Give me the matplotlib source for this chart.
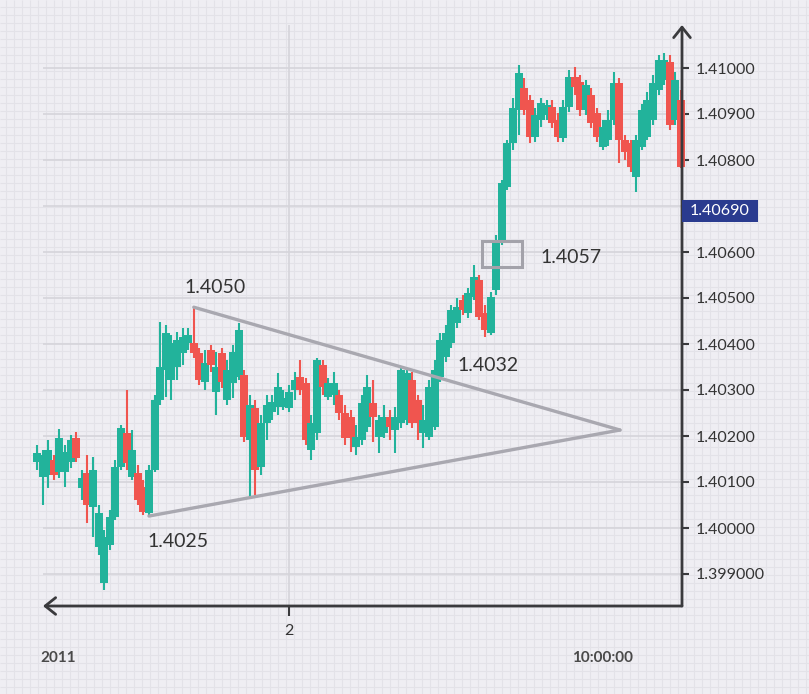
import matplotlib
matplotlib.use("Agg")
import matplotlib.pyplot as plt
import matplotlib.transforms as mtransforms
from matplotlib.patches import Rectangle
import numpy as np

# ---- OHLC series (one candle per bar index) ----
opens = [1.40143, 1.40111, 1.40115, 1.40148, 1.40122, 1.40122, 1.40143, 1.40196, 1.40087, 1.40120,
         1.40046, 1.39959, 1.39880, 1.39963, 1.40024, 1.40133, 1.40206, 1.40111, 1.40120, 1.40089,
         1.40033, 1.40126, 1.40278, 1.40343, 1.40322, 1.40350, 1.40380, 1.40402, 1.40402, 1.40380,
         1.40317, 1.40387, 1.40296, 1.40380, 1.40278, 1.40315, 1.40328, 1.40333, 1.40191, 1.40261,
         1.40133, 1.40228, 1.40252, 1.40263, 1.40263, 1.40261, 1.40300, 1.40328, 1.40315, 1.40170,
         1.40206, 1.40354, 1.40285, 1.40289, 1.40289, 1.40250, 1.40241, 1.40176, 1.40191, 1.40220,
         1.40272, 1.40198, 1.40206, 1.40241, 1.40213, 1.40228, 1.40235, 1.40322, 1.40278, 1.40206,
         1.40198, 1.40220, 1.40328, 1.40372, 1.40402, 1.40446, 1.40496, 1.40467, 1.40502, 1.40539,
         1.40467, 1.40424, 1.40517, 1.40626, 1.40741, 1.40837, 1.40909, 1.40957, 1.40930, 1.40850,
         1.40887, 1.40898, 1.40915, 1.40887, 1.40848, 1.40915, 1.40980, 1.40970, 1.40909, 1.40941,
         1.40902, 1.40828, 1.40843, 1.40887, 1.40967, 1.40843, 1.40837, 1.40763, 1.40828, 1.40850,
         1.40887, 1.40952, 1.40974, 1.41013, 1.40887, 1.40930]
closes = [1.40163, 1.40159, 1.40170, 1.40115, 1.40196, 1.40165, 1.40191, 1.40152, 1.40109, 1.40050,
          1.40126, 1.40033, 1.39980, 1.40024, 1.40133, 1.40217, 1.40141, 1.40170, 1.40061, 1.40035,
          1.40126, 1.40278, 1.40350, 1.40424, 1.40402, 1.40409, 1.40415, 1.40420, 1.40380, 1.40322,
          1.40359, 1.40354, 1.40350, 1.40317, 1.40343, 1.40383, 1.40430, 1.40198, 1.40267, 1.40126,
          1.40228, 1.40267, 1.40274, 1.40306, 1.40283, 1.40296, 1.40322, 1.40300, 1.40191, 1.40228,
          1.40365, 1.40306, 1.40315, 1.40315, 1.40250, 1.40196, 1.40196, 1.40198, 1.40272, 1.40306,
          1.40241, 1.40235, 1.40241, 1.40220, 1.40241, 1.40343, 1.40337, 1.40228, 1.40228, 1.40235,
          1.40306, 1.40343, 1.40409, 1.40424, 1.40474, 1.40480, 1.40474, 1.40511, 1.40546, 1.40459,
          1.40430, 1.40502, 1.40626, 1.40750, 1.40837, 1.40913, 1.40989, 1.40909, 1.40850, 1.40898,
          1.40924, 1.40920, 1.40880, 1.40850, 1.40915, 1.40980, 1.40959, 1.40909, 1.40963, 1.40880,
          1.40850, 1.40872, 1.40887, 1.40967, 1.40843, 1.40817, 1.40785, 1.40843, 1.40909, 1.40930,
          1.40967, 1.41017, 1.41017, 1.40876, 1.40974, 1.40785]
highs = [1.40180, 1.40170, 1.40191, 1.40159, 1.40215, 1.40180, 1.40202, 1.40209, 1.40126, 1.40159,
         1.40154, 1.40050, 1.39996, 1.40039, 1.40148, 1.40224, 1.40300, 1.40213, 1.40137, 1.40104,
         1.40137, 1.40289, 1.40448, 1.40441, 1.40420, 1.40426, 1.40435, 1.40435, 1.40480, 1.40391,
         1.40387, 1.40398, 1.40383, 1.40391, 1.40365, 1.40398, 1.40446, 1.40343, 1.40289, 1.40278,
         1.40246, 1.40289, 1.40289, 1.40337, 1.40300, 1.40311, 1.40339, 1.40365, 1.40326, 1.40246,
         1.40370, 1.40365, 1.40326, 1.40339, 1.40300, 1.40267, 1.40257, 1.40224, 1.40289, 1.40333,
         1.40322, 1.40246, 1.40267, 1.40257, 1.40263, 1.40348, 1.40348, 1.40339, 1.40289, 1.40267,
         1.40322, 1.40365, 1.40424, 1.40441, 1.40485, 1.40500, 1.40507, 1.40522, 1.40572, 1.40550,
         1.40485, 1.40513, 1.40637, 1.40757, 1.40843, 1.40935, 1.41007, 1.40978, 1.40941, 1.40913,
         1.40935, 1.40930, 1.40930, 1.40902, 1.40930, 1.40996, 1.41002, 1.40985, 1.40974, 1.40957,
         1.40913, 1.40887, 1.40909, 1.40991, 1.40978, 1.40854, 1.40843, 1.40854, 1.40922, 1.40948,
         1.40985, 1.41028, 1.41033, 1.41028, 1.40991, 1.40952]
lows = [1.40126, 1.40050, 1.40087, 1.40104, 1.40109, 1.40089, 1.40130, 1.40143, 1.40061, 1.40011,
        1.39980, 1.39941, 1.39865, 1.39952, 1.40017, 1.40126, 1.40126, 1.40104, 1.40050, 1.40028,
        1.40026, 1.40122, 1.40267, 1.40285, 1.40278, 1.40322, 1.40354, 1.40387, 1.40370, 1.40311,
        1.40300, 1.40339, 1.40246, 1.40304, 1.40267, 1.40283, 1.40322, 1.40187, 1.40067, 1.40072,
        1.40115, 1.40191, 1.40235, 1.40246, 1.40257, 1.40252, 1.40278, 1.40289, 1.40180, 1.40148,
        1.40191, 1.40289, 1.40278, 1.40267, 1.40235, 1.40180, 1.40165, 1.40159, 1.40180, 1.40209,
        1.40187, 1.40163, 1.40196, 1.40191, 1.40163, 1.40217, 1.40224, 1.40217, 1.40191, 1.40174,
        1.40191, 1.40213, 1.40317, 1.40361, 1.40391, 1.40435, 1.40463, 1.40456, 1.40496, 1.40452,
        1.40415, 1.40420, 1.40507, 1.40615, 1.40735, 1.40822, 1.40854, 1.40898, 1.40837, 1.40839,
        1.40872, 1.40887, 1.40870, 1.40839, 1.40839, 1.40904, 1.40941, 1.40896, 1.40898, 1.40870,
        1.40839, 1.40822, 1.40830, 1.40876, 1.40793, 1.40800, 1.40774, 1.40730, 1.40822, 1.40843,
        1.40876, 1.40941, 1.40963, 1.40865, 1.40876, 1.40783]

# ---- axis labelling ----
y_ticks = [1.399, 1.400, 1.401, 1.402, 1.403, 1.404, 1.405, 1.406, 1.407, 1.408, 1.409, 1.410]
y_tick_labels = ["1.399000", "1.40000", "1.40100", "1.40200", "1.40300", "1.40400",
                 "1.40500", "1.40600", "", "1.40800", "1.40900", "1.41000"]
x_tick_pos = [45]
x_tick_labels = ["2"]
last_price = 1.40690
last_price_label = "1.40690"

# ---- pattern annotations ----
apex_x, apex_price = 104.1, 1.40213          # where the triangle converges
breakout_box = (79.5, 86.6, 1.40567, 1.40624)  # x0, x1, price0, price1
labels = [("1.4050", 31.8, 1.40522), ("1.4025", 25.1, 1.39970),
          ("1.4032", 80.5, 1.40354), ("1.4057", 95.4, 1.40589)]
peak_idx, trough_idx = 28, 20

UP = "#22b39b"
DOWN = "#f0554f"
BG = "#efeef3"
TEXT = "#333333"
AXIS = "#3a3a3d"

W, H = 809, 694
fig = plt.figure(figsize=(W / 100, H / 100), dpi=100, facecolor=BG)

# fine graph-paper background
bg = fig.add_axes([0, 0, 1, 1], zorder=0)
bg.set_xlim(0, W)
bg.set_ylim(H, 0)
bg.axis("off")
bg.vlines(np.arange(6, W, 8), 0, H, color="#e3e2e8", lw=0.8)
bg.hlines(np.arange(7, H, 8), 0, W, color="#e3e2e8", lw=0.8)

ax = fig.add_axes([43 / W, 88 / H, 639 / W, 581 / H], zorder=1)
ax.set_facecolor("none")
x0, x1 = 6 / 5.6, 645 / 5.6
y0, y1 = 1.41 - 538 / 46000, 1.41 + 43 / 46000
ax.set_xlim(x0, x1)
ax.set_ylim(y0, y1)
for s in ax.spines.values():
    s.set_visible(False)

ax.set_yticks(y_ticks)
ax.set_yticklabels(y_tick_labels)
ax.yaxis.tick_right()
ax.set_xticks(x_tick_pos)
ax.set_xticklabels(x_tick_labels)
ax.tick_params(axis="y", length=5, width=1.5, color=AXIS, pad=5,
               labelsize=11.5, labelcolor=TEXT)
ax.tick_params(axis="x", length=7, width=1.5, color=AXIS, pad=6,
               labelsize=11.5, labelcolor=TEXT)
for lab in ax.get_yticklabels() + ax.get_xticklabels():
    lab.set_family("Lato")
ax.grid(True, color="#d5d4da", lw=1.2, zorder=0)

# candles
o = np.array(opens); c = np.array(closes)
h = np.array(highs); l = np.array(lows)
idx = np.arange(len(o))
cols = [UP if cc >= oo else DOWN for oo, cc in zip(o, c)]
ax.vlines(idx, l, h, colors=cols, lw=1.5, zorder=3, clip_on=False)
bars = ax.bar(idx, np.abs(c - o), bottom=np.minimum(o, c), width=1.45,
              color=cols, zorder=4)
for b in bars:
    b.set_clip_on(False)

# symmetric triangle
tri_col = "#a9a8b0"
ax.plot([peak_idx, apex_x], [highs[peak_idx], apex_price], color=tri_col,
        lw=2.4, zorder=5, solid_capstyle="round")
ax.plot([trough_idx, apex_x], [lows[trough_idx], apex_price], color=tri_col,
        lw=2.4, zorder=5, solid_capstyle="round")

bx0, bx1, bp0, bp1 = breakout_box
ax.add_patch(Rectangle((bx0, bp0), bx1 - bx0, bp1 - bp0, fill=False,
                       edgecolor="#a3a2aa", lw=2.2, zorder=6))

for txt, xv, pv in labels:
    ax.text(xv, pv, txt, ha="center", va="center", fontsize=14,
            family="Lato", color=TEXT, zorder=7)

# axis arrows
ap = dict(arrowstyle="->,head_length=0.75,head_width=0.6", lw=2, color=AXIS,
          shrinkA=0, shrinkB=0)
ax.annotate("", xy=(x1, y1), xytext=(x1, y0), arrowprops=ap,
            annotation_clip=False, zorder=8)
ax.annotate("", xy=(x0, y0), xytext=(x1, y0), arrowprops=ap,
            annotation_clip=False, zorder=8)

# last price tag
blend = mtransforms.blended_transform_factory(ax.transAxes, ax.transData)
tag_w = 76 / 639
tag_h = 22 / 46000
ax.add_patch(Rectangle((1.0, last_price - tag_h / 2), tag_w, tag_h,
                       transform=blend, facecolor="#2a3b8f", edgecolor="none",
                       clip_on=False, zorder=9))
ax.text(1.0 + tag_w / 2, last_price, last_price_label, transform=blend,
        ha="center", va="center", fontsize=11.5, family="Lato",
        color="white", zorder=10, clip_on=False)

fig.text(58.5 / W, 1 - 658 / H, "2011", ha="center", va="center",
         fontsize=11, family="Lato", fontweight="bold", color="#4a4a4a")
fig.text(603 / W, 1 - 658 / H, "10:00:00", ha="center", va="center",
         fontsize=11, family="Lato", fontweight="bold", color="#4a4a4a")

fig.savefig("out.png", dpi=100, facecolor=BG)
